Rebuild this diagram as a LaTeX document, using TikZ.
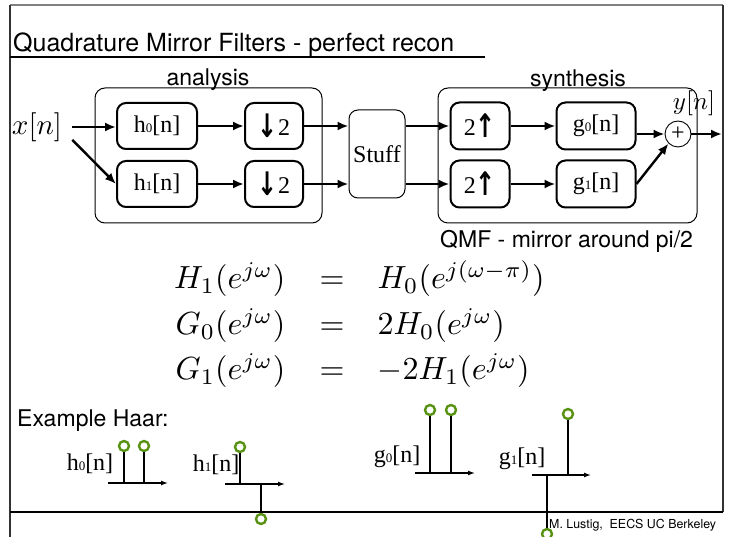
\documentclass[tikz,border=0pt]{standalone}
\usepackage{fontspec}
\setmainfont{Liberation Serif}
\newfontfamily\hv{TeX Gyre Heros}
\newfontfamily\dv{DejaVu Sans}
\usetikzlibrary{arrows.meta,calc}
\definecolor{stemgreen}{RGB}{88,146,18}
\newcommand{\filt}[2]{#1{\fontsize{13}{13}\selectfont #2}[n]}
\newcommand{\dnarr}{\raisebox{-2pt}{\scalebox{1}[1.35]{\dv\bfseries ↓}}}
\newcommand{\uparr}{\raisebox{-2pt}{\scalebox{1}[1.35]{\dv\bfseries ↑}}}
\tikzset{
  blk/.style={draw,line width=2pt,rounded corners=9pt,inner sep=0pt,font=\fontsize{24}{26}\selectfont},
  grp/.style={draw,line width=1pt,rounded corners=10pt},
  flow/.style={line width=2.4pt,-{Latex[length=11pt,width=9pt]}},
  axis/.style={line width=1.3pt,-{Latex[length=7pt,width=5pt]}},
  stem/.style={line width=2.6pt},
  tip/.style={circle,draw=stemgreen,line width=2.4pt,fill=white,inner sep=0pt,minimum size=10pt},
  sans/.style={font=\hv\fontsize{23}{26}\selectfont,inner sep=0pt},
  serif/.style={font=\fontsize{24}{26}\selectfont,inner sep=0pt},
}
\begin{document}
\begin{tikzpicture}[x=1pt,y=-1pt]
\useasboundingbox (0,0) rectangle (732,537);
% slide frame
\draw[line width=2pt,gray] (10,5) -- (723,5);
\draw[line width=1.4pt,black!80] (10,5) -- (10,537);
\draw[line width=1.4pt,black!80] (723,5) -- (723,512);
\draw[line width=1.2pt] (10,512) -- (723,512);
\node[font=\hv\fontsize{25}{28}\selectfont,anchor=base west,inner sep=0pt] (title) at (13,52) {Quadrature Mirror Filters - perfect recon};
\draw[line width=1.4pt] (10,57) -- (485,57);

% filter bank
\draw[grp] (95,88) rectangle (322,223);
\draw[grp] (438,88) rectangle (697,223);
\node[sans,anchor=base] (ana) at (208,86) {analysis};
\node[sans,anchor=base] (syn) at (578,87) {synthesis};

\node[scale=2.9] (xn) at (37,127) {$x[n]$};
\node[blk,minimum width=80pt,minimum height=46pt] (h0) at (157,126) {\filt{h}{0}};
\node[blk,minimum width=80pt,minimum height=46pt] (h1) at (157,184) {\filt{h}{1}};
\node[blk,minimum width=58pt,minimum height=46pt] (d0) at (274,126) {\dnarr2};
\node[blk,minimum width=58pt,minimum height=46pt] (d1) at (274,184) {\dnarr2};
\node[blk,line width=1pt,minimum width=56pt,minimum height=88pt] (stuff) at (377,154) {Stuff};
\node[blk,minimum width=59pt,minimum height=47pt] (u0) at (480,126) {2\uparr};
\node[blk,minimum width=59pt,minimum height=47pt] (u1) at (480,184) {2\uparr};
\node[blk,minimum width=79pt,minimum height=47pt] (g0) at (596,126) {\filt{g}{0}};
\node[blk,minimum width=79pt,minimum height=47pt] (g1) at (596,184) {\filt{g}{1}};
\node[circle,draw,line width=0.9pt,minimum size=26pt,inner sep=0pt] (sum) at (678,134) {\fontsize{24}{24}\selectfont +};
\node[scale=2.5] (yn) at (694,103) {$y[n]$};
\coordinate (yout) at (722,134);

\draw[flow] (xn) -- (xn -| h0.west);
\draw[flow] (xn.-20) -- (h1.west);
\draw[flow] (h0) -- (d0);
\draw[flow] (h1) -- (d1);
\draw[flow] (d0) -- (d0 -| stuff.west);
\draw[flow] (d1) -- (d1 -| stuff.west);
\draw[flow] (stuff.east |- u0) -- (u0);
\draw[flow] (stuff.east |- u1) -- (u1);
\draw[flow] (u0) -- (g0);
\draw[flow] (u1) -- (g1);
\draw[flow] (g0.east |- sum) -- (sum);
\draw[flow] (g1.east) -- (sum.south west);
\draw[flow] (sum) -- (yout);

\node[sans,anchor=base west] (qmf) at (440,248) {QMF - mirror around pi/2};

% QMF relations
\foreach \lhs/\rhs/\yy [count=\i] in {{H_1(e^{j\omega})}/{H_0(e^{j(\omega-\pi)})}/289,
    {G_0(e^{j\omega})}/{2H_0(e^{j\omega})}/335,
    {G_1(e^{j\omega})}/{-2H_1(e^{j\omega})}/380}{
  \node[scale=3.2,anchor=base east,inner sep=0pt] (lhs\i) at (286,\yy) {$\lhs$};
  \node[scale=3.2,anchor=base,inner sep=0pt] (eq\i) at (332,\yy) {$=$};
  \node[scale=3.2,anchor=base west,inner sep=0pt] (rhs\i) at (377,\yy) {$\rhs$};
}

% Haar example
\node[sans,anchor=base west] (haar) at (17,427) {Example Haar:};
\node[serif,anchor=base] (lh0) at (90,471) {\filt{h}{0}};
\node[serif,anchor=base] (lh1) at (216,472) {\filt{h}{1}};
\node[serif,anchor=base] (lg0) at (397,463) {\filt{g}{0}};
\node[serif,anchor=base] (lg1) at (522,465) {\filt{g}{1}};
\draw[axis] (108,483) -- (168,483);
\draw[axis] (225,484) -- (285,484);
\draw[axis] (415,473) -- (475,473);
\draw[axis] (532,475) -- (591,475);
\foreach \sx/\sy/\ty [count=\i] in {124/483/446,144/483/446,240/484/447,261/484/519,
    430/473/410,451/473/410,568/475/414,547/475/534}{
  \node[tip] (tip\i) at (\sx,\ty) {};
  \draw[stem] (\sx,\sy) -- (tip\i);
}

\node[font=\hv\fontsize{12.4}{14}\selectfont,anchor=base west,inner sep=0pt] (credit) at (549,529) {M. Lustig,\ \ EECS UC Berkeley};
\end{tikzpicture}
\end{document}
